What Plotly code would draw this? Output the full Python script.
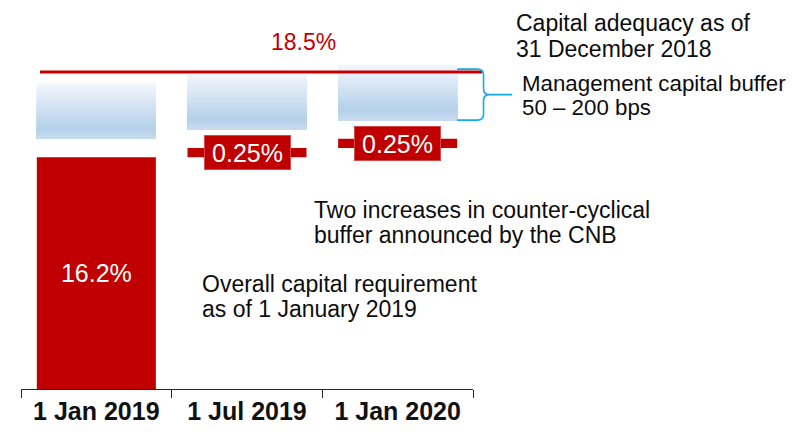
import plotly.graph_objects as go

# ---------------- data ----------------
categories = ["1 Jan 2019", "1 Jul 2019", "1 Jan 2020"]
overall_requirement = 16.2            # % overall capital requirement as of 1 Jan 2019
ccyb_increase = [0.0, 0.25, 0.25]     # counter-cyclical buffer increases (%)
ccyb_labels = ["", "0.25%", "0.25%"]
buffer_bps = [50, 200]                # management capital buffer range (bps)
capital_adequacy = 18.5               # % as of 31 December 2018

# cumulative requirement at each date
cum_req = []
level = overall_requirement
for inc in ccyb_increase:
    level += inc
    cum_req.append(level)
cum_before = [c - i for c, i in zip(cum_req, ccyb_increase)]
buf_low = [c + buffer_bps[0] / 100 for c in cum_req]
buf_high = [c + buffer_bps[1] / 100 for c in cum_req]

# ---------------- styling ----------------
OFF = 8                      # default page body margin
W, H = 805 - OFF, 437 - OFF
ML, MT = 21 - OFF, 20 - OFF
PLOT_R, PLOT_B = 473 - OFF, 394 - OFF
MR, MB = W - PLOT_R, H - PLOT_B
PW, PH = PLOT_R - ML, PLOT_B - MT
Y_MIN, Y_MAX = 9.933, 19.907
RED = "#c00000"
FONT = "Liberation Sans, Arial, sans-serif"
BAR_W = 0.79


def xc(v):
    """category-axis units -> paper x"""
    return (v + 0.5) / len(categories)


def px_x(p):
    """page pixel x -> paper"""
    return (p - OFF - ML) / PW


def px_y(p):
    """page pixel y -> paper"""
    return (PLOT_B - (p - OFF)) / PH


fig = go.Figure()

# gradient management buffer boxes (overlaid slices)
stops = [(0.0, (243, 247, 252)), (0.82, (180, 208, 234)), (1.0, (200, 220, 240))]


def grad(t):
    for (t0, c0), (t1, c1) in zip(stops[:-1], stops[1:]):
        if t <= t1:
            f = (t - t0) / (t1 - t0)
            return "rgb(%d,%d,%d)" % tuple(round(a + (b - a) * f) for a, b in zip(c0, c1))
    return "rgb(%d,%d,%d)" % stops[-1][1]


N = 40
for j in range(N):
    t = (j + 0.5) / N
    tops = [hi - (hi - lo) * j / N for lo, hi in zip(buf_low, buf_high)]
    fig.add_trace(go.Bar(
        x=categories, base=buf_low, y=[tp - lo for tp, lo in zip(tops, buf_low)],
        width=BAR_W, marker=dict(color=grad(t), line=dict(width=0)),
        hoverinfo="skip", showlegend=False))

# overall requirement bar (drawn from the axis start)
fig.add_trace(go.Bar(
    x=[categories[0]], base=[Y_MIN], y=[overall_requirement - Y_MIN],
    width=BAR_W, marker=dict(color=RED, line=dict(width=0)),
    text=["%.1f%%" % overall_requirement], textposition="inside",
    insidetextanchor="middle", textangle=0,
    textfont=dict(color="white", size=25, family=FONT),
    showlegend=False))

# counter-cyclical buffer increases
fig.add_trace(go.Bar(
    x=categories[1:], base=cum_before[1:], y=ccyb_increase[1:],
    width=BAR_W, marker=dict(color=RED, line=dict(width=0)),
    showlegend=False, hoverinfo="skip"))

annotations = []
for i in range(1, len(categories)):
    annotations.append(dict(
        x=categories[i], y=cum_before[i] + ccyb_increase[i] / 2, xref="x", yref="y",
        text=ccyb_labels[i], showarrow=False, bgcolor=RED,
        font=dict(color="white", size=25, family=FONT),
        width=83, height=31, borderpad=1, borderwidth=1, bordercolor="#d84a4a",
        xanchor="center", yanchor="middle"))

# capital adequacy line and label
shapes = [dict(type="line", xref="paper", yref="y",
               x0=xc(-0.374), x1=xc(2.56), y0=capital_adequacy, y1=capital_adequacy,
               line=dict(color=RED, width=3))]
annotations.append(dict(x=1.372, y=capital_adequacy, xref="x", yref="y", yshift=30,
                        text="%.1f%%" % capital_adequacy, showarrow=False,
                        font=dict(color=RED, size=23, family=FONT)))

# brace for management buffer
xl = xc(2 + BAR_W / 2)
xs = xc(2 + BAR_W / 2 + 0.175)
xt = xc(2 + BAR_W / 2 + 0.365)
dx = xc(0.04) - xc(0)
yt = buf_high[2] - 0.12
yb = buf_low[2]
ym = (yt + yb) / 2
dy = 0.16
brace = (f"M {xl},{yt} L {xs - dx},{yt} Q {xs},{yt} {xs},{yt - dy} "
         f"L {xs},{ym + dy} Q {xs},{ym} {xs + dx},{ym} L {xt},{ym} "
         f"M {xs + dx},{ym} Q {xs},{ym} {xs},{ym - dy} "
         f"L {xs},{yb + dy} Q {xs},{yb} {xs - dx},{yb} L {xl},{yb}")
shapes.append(dict(type="path", xref="paper", yref="y", path=brace,
                   line=dict(color="#12aaee", width=1.6)))

# explanatory text lines (left x px, centre y px, font size)
text_lines = [
    ("Capital adequacy as of", 514, 23.5, 23),
    ("31 December 2018", 514, 49, 23),
    ("Management capital buffer", 520, 84, 22.3),
    ("50 – 200 bps", 520, 109, 22.3),
    ("Two increases in counter-cyclical", 312, 213, 23),
    ("buffer announced by the CNB", 312, 238, 23),
    ("Overall capital requirement", 200, 288, 23),
    ("as of 1 January 2019", 200, 313, 23),
]
for txt, lx, cy, fs in text_lines:
    annotations.append(dict(x=px_x(lx), y=px_y(cy), xref="paper", yref="paper",
                            text=txt, showarrow=False, xanchor="left", yanchor="middle",
                            font=dict(color="#0d0d0d", size=fs, family=FONT)))

fig.update_layout(
    width=W, height=H, margin=dict(l=ML, r=MR, t=MT, b=MB, pad=0),
    paper_bgcolor="white", plot_bgcolor="white", barmode="overlay",
    showlegend=False, shapes=shapes, annotations=annotations,
    xaxis=dict(type="category", categoryorder="array", categoryarray=categories,
               range=[-0.5, len(categories) - 0.5], showgrid=False, zeroline=False,
               showline=True, linecolor="#262626", linewidth=1,
               ticks="outside", tickson="boundaries", ticklen=8, tickcolor="#262626",
               ticklabelstandoff=0,
               tickfont=dict(family=FONT, size=25, color="#111111", weight="bold")),
    yaxis=dict(range=[Y_MIN, Y_MAX], visible=False, fixedrange=True),
)

fig.write_html("out.html")
